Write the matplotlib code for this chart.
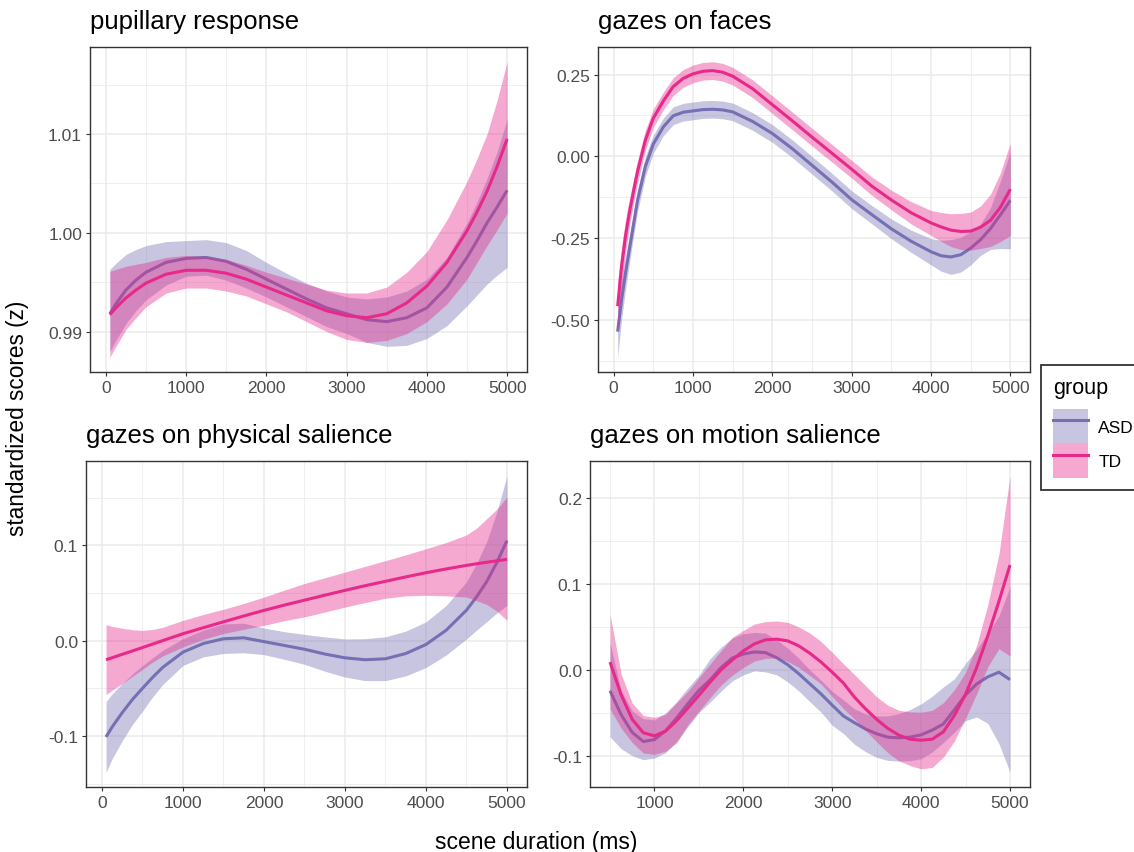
import matplotlib
matplotlib.use("Agg")
import matplotlib.pyplot as plt
from matplotlib.patches import Patch
from matplotlib.lines import Line2D
from matplotlib.legend_handler import HandlerTuple
import numpy as np

plt.rcParams['font.family'] = ['Liberation Sans', 'DejaVu Sans']
plt.rcParams['axes.unicode_minus'] = False

groups = ["ASD", "TD"]
colors = {"ASD": "#7570B3", "TD": "#E7298A"}

# ---------------- pupillary response ----------------
pup_x = [50, 125, 250, 375, 500, 750, 1000, 1250, 1500, 1750, 2000, 2250, 2500, 2750,
         3000, 3250, 3500, 3750, 4000, 4250, 4500, 4625, 4750, 4875, 5000]
pup_asd = [0.9918, 0.9928, 0.9942, 0.9952, 0.9960, 0.9970, 0.9974, 0.9975, 0.9971, 0.9963, 0.9953, 0.9943,
           0.9933, 0.9924, 0.9918, 0.9912, 0.9910, 0.9914, 0.9924, 0.9945, 0.9975, 0.9992, 1.0010,
           1.0026, 1.0043]
pup_asd_lo = [0.9880, 0.9891, 0.9908, 0.9921, 0.9932, 0.9947, 0.9956, 0.9957, 0.9952, 0.9944, 0.9935, 0.9925,
              0.9915, 0.9905, 0.9898, 0.9889, 0.9885, 0.9886, 0.9893, 0.9906, 0.9926, 0.9937, 0.9948,
              0.9957, 0.9965]
pup_asd_hi = [0.9963, 0.9969, 0.9978, 0.9983, 0.9987, 0.9991, 0.9992, 0.9993, 0.9990, 0.9982, 0.9970, 0.9959,
              0.9949, 0.9941, 0.9935, 0.9933, 0.9935, 0.9941, 0.9953, 0.9975, 1.0010, 1.0031, 1.0055,
              1.0082, 1.0115]
pup_td = [0.9917, 0.9924, 0.9934, 0.9942, 0.9949, 0.9958, 0.9962, 0.9962, 0.9959, 0.9953, 0.9945, 0.9937,
          0.9929, 0.9921, 0.9916, 0.9914, 0.9918, 0.9929, 0.9946, 0.9970, 1.0002, 1.0021, 1.0042,
          1.0067, 1.0095]
pup_td_lo = [0.9874, 0.9885, 0.9902, 0.9914, 0.9925, 0.9939, 0.9944, 0.9944, 0.9941, 0.9936, 0.9928, 0.9920,
             0.9910, 0.9900, 0.9892, 0.9889, 0.9891, 0.9898, 0.9910, 0.9928, 0.9953, 0.9970, 0.9987,
             1.0003, 1.0020]
pup_td_hi = [0.9961, 0.9963, 0.9966, 0.9968, 0.9970, 0.9975, 0.9977, 0.9976, 0.9973, 0.9967, 0.9960, 0.9954,
             0.9948, 0.9942, 0.9939, 0.9939, 0.9945, 0.9960, 0.9981, 1.0013, 1.0052, 1.0075, 1.0100,
             1.0134, 1.0173]
pup_yticks = [0.99, 1.00, 1.01]
pup_ylabels = ["0.99", "1.00", "1.01"]

# ---------------- gazes on faces ----------------
fac_x = [50, 100, 150, 200, 250, 300, 400, 500, 625, 750, 875, 1000, 1125, 1250, 1375, 1500,
         1750, 2000, 2250, 2500, 2750, 3000, 3250, 3500, 3750, 4000, 4125, 4250, 4375, 4500,
         4625, 4750, 4875, 5000]
fac_asd = [-0.535, -0.437, -0.355, -0.281, -0.208, -0.135, -0.030, 0.038, 0.090, 0.124, 0.135, 0.139,
           0.143, 0.144, 0.142, 0.136, 0.107, 0.070, 0.024, -0.027, -0.078, -0.132, -0.177, -0.221,
           -0.259, -0.291, -0.303, -0.307, -0.300, -0.280, -0.254, -0.220, -0.178, -0.134]
fac_asd_ci = [0.078, 0.060, 0.050, 0.042, 0.037, 0.034, 0.030, 0.028, 0.027, 0.027, 0.027, 0.027,
              0.027, 0.027, 0.027, 0.027, 0.027, 0.027, 0.027, 0.027, 0.027, 0.027, 0.028, 0.030,
              0.034, 0.040, 0.047, 0.053, 0.053, 0.051, 0.048, 0.064, 0.103, 0.148]
fac_td = [-0.457, -0.335, -0.242, -0.169, -0.107, -0.047, 0.050, 0.117, 0.169, 0.213, 0.238, 0.252,
          0.260, 0.262, 0.257, 0.245, 0.207, 0.158, 0.109, 0.059, 0.010, -0.039, -0.090, -0.133,
          -0.172, -0.203, -0.215, -0.225, -0.229, -0.228, -0.216, -0.195, -0.155, -0.100]
fac_td_ci = [0.075, 0.060, 0.050, 0.042, 0.037, 0.034, 0.030, 0.028, 0.027, 0.027, 0.027, 0.027,
             0.027, 0.027, 0.027, 0.027, 0.027, 0.027, 0.027, 0.027, 0.027, 0.027, 0.028, 0.030,
             0.034, 0.038, 0.044, 0.050, 0.055, 0.058, 0.065, 0.080, 0.105, 0.141]
fac_yticks = [-0.50, -0.25, 0.00, 0.25]
fac_ylabels = ["-0.50", "-0.25", "0.00", "0.25"]

# ---------------- gazes on physical salience ----------------
phy_x = [50, 125, 250, 375, 500, 625, 750, 1000, 1250, 1500, 1750, 2000, 2250, 2500, 2750,
         3000, 3250, 3500, 3750, 4000, 4250, 4500, 4625, 4750, 4875, 5000]
phy_asd = [-0.101, -0.0906, -0.0755, -0.0618, -0.050, -0.0385, -0.028, -0.012, -0.003, 0.002, 0.003,
           -0.001, -0.005, -0.009, -0.014, -0.018, -0.020, -0.019, -0.0135, -0.004, 0.011, 0.032,
           0.046, 0.062, 0.082, 0.105]
phy_asd_lo = [-0.138, -0.124, -0.105, -0.088, -0.074, -0.059, -0.046, -0.026, -0.017, -0.0134, -0.0127,
              -0.0147, -0.0195, -0.0248, -0.032, -0.0382, -0.0419, -0.0419, -0.037, -0.0282, -0.015,
              0.0018, 0.011, 0.020, 0.029, 0.037]
phy_asd_hi = [-0.064, -0.056, -0.045, -0.035, -0.026, -0.018, -0.010, 0.002, 0.011, 0.0176, 0.0183,
              0.0133, 0.0095, 0.0066, 0.004, 0.0018, 0.0021, 0.0041, 0.010, 0.0198, 0.037, 0.0618,
              0.081, 0.104, 0.135, 0.173]
phy_td = [-0.020, -0.0179, -0.0143, -0.0108, -0.0072, -0.0036, 0.0001, 0.0073, 0.0136, 0.0198, 0.0259,
          0.0318, 0.0373, 0.0425, 0.0477, 0.0528, 0.0577, 0.0623, 0.0669, 0.0713, 0.0753, 0.079,
          0.0807, 0.0823, 0.0838, 0.0853]
phy_td_lo = [-0.0566, -0.052, -0.045, -0.0375, -0.030, -0.0225, -0.016, -0.0066, 0.0015, 0.0075, 0.012,
             0.0161, 0.021, 0.025, 0.030, 0.0353, 0.040, 0.0445, 0.047, 0.0476, 0.047, 0.0458,
             0.042, 0.038, 0.031, 0.0213]
phy_td_hi = [0.0168, 0.015, 0.013, 0.0115, 0.0108, 0.0118, 0.014, 0.0213, 0.0275, 0.033, 0.039,
             0.0458, 0.053, 0.060, 0.066, 0.072, 0.078, 0.084, 0.090, 0.0965, 0.103, 0.111,
             0.118, 0.128, 0.138, 0.1507]
phy_yticks = [-0.1, 0.0, 0.1]
phy_ylabels = ["-0.1", "0.0", "0.1"]

# ---------------- gazes on motion salience ----------------
mot_x = [500, 625, 750, 875, 1000, 1125, 1250, 1375, 1500, 1625, 1750, 1875, 2000, 2125, 2250,
         2375, 2500, 2625, 2750, 2875, 3000, 3125, 3250, 3375, 3500, 3625, 3750, 3875, 4000,
         4125, 4250, 4375, 4500, 4625, 4750, 4875, 5000]
mot_asd = [-0.0239, -0.0518, -0.0725, -0.0831, -0.0808, -0.0706, -0.0557, -0.0392, -0.0235, -0.0114,
           0.0031, 0.0141, 0.0188, 0.0212, 0.0204, 0.0145, 0.0063, -0.0043, -0.0161, -0.0278,
           -0.0408, -0.0533, -0.0612, -0.0686, -0.0741, -0.0780, -0.0788, -0.0780, -0.0753,
           -0.0698, -0.0627, -0.0460, -0.0290, -0.0160, -0.0078, -0.0024, -0.0110]
mot_asd_lo = [-0.0776, -0.0914, -0.0996, -0.1043, -0.1024, -0.0961, -0.0827, -0.0659, -0.0494, -0.0373,
              -0.0243, -0.0125, -0.0055, -0.0008, -0.0020, -0.0055, -0.0137, -0.0243, -0.0369, -0.0490,
              -0.0643, -0.0737, -0.0863, -0.0949, -0.1016, -0.1051, -0.1059, -0.1055, -0.1031,
              -0.0953, -0.0843, -0.0722, -0.0588, -0.0545, -0.0620, -0.0855, -0.1188]
mot_asd_hi = [0.0322, -0.0239, -0.0475, -0.0565, -0.0580, -0.0498, -0.0365, -0.0208, -0.0059, 0.0133,
              0.0267, 0.0373, 0.0424, 0.0439, 0.0431, 0.0353, 0.0255, 0.0137, 0.0000, -0.0118,
              -0.0247, -0.0345, -0.0451, -0.0510, -0.0533, -0.0533, -0.0506, -0.0459, -0.0392,
              -0.0302, -0.0196, -0.0100, 0.0080, 0.0240, 0.0435, 0.0631, 0.0969]
mot_td = [0.0094, -0.0286, -0.0573, -0.0729, -0.0765, -0.0710, -0.0588, -0.0443, -0.0294, -0.0141,
          0.0004, 0.0118, 0.0224, 0.0306, 0.0353, 0.0361, 0.0341, 0.0282, 0.0196, 0.0094,
          -0.0024, -0.0149, -0.0314, -0.0451, -0.0573, -0.0678, -0.0757, -0.0804, -0.0816,
          -0.0804, -0.0718, -0.0526, -0.0280, 0.0030, 0.0400, 0.0800, 0.1224]
mot_td_lo = [-0.0451, -0.0675, -0.0843, -0.0965, -0.0980, -0.0945, -0.0847, -0.0639, -0.0478, -0.0322,
             -0.0173, -0.0059, 0.0031, 0.0106, 0.0137, 0.0141, 0.0102, 0.0031, -0.0063, -0.0161,
             -0.0306, -0.0447, -0.0569, -0.0702, -0.0835, -0.0961, -0.1055, -0.1110, -0.1149,
             -0.1133, -0.1012, -0.0824, -0.0560, -0.0275, 0.0040, 0.0250, 0.0165]
mot_td_hi = [0.0655, -0.0043, -0.0384, -0.0529, -0.0549, -0.0514, -0.0380, -0.0247, -0.0090, 0.0071,
             0.0227, 0.0380, 0.0463, 0.0537, 0.0565, 0.0573, 0.0557, 0.0502, 0.0431, 0.0333,
             0.0208, 0.0075, -0.0051, -0.0180, -0.0310, -0.0408, -0.0467, -0.0486, -0.0490,
             -0.0467, -0.0380, -0.0227, -0.0027, 0.0290, 0.0760, 0.1350, 0.2263]
mot_yticks = [-0.1, 0.0, 0.1, 0.2]
mot_ylabels = ["-0.1", "0.0", "0.1", "0.2"]

titles = ["pupillary response", "gazes on faces",
          "gazes on physical salience", "gazes on motion salience"]
xlabel = "scene duration (ms)"
ylabel = "standardized scores (z)"


def ribbon(mean, ci):
    m = np.array(mean)
    c = np.array(ci)
    return m, m - c, m + c


panels = [
    (pup_x, {"ASD": (pup_asd, pup_asd_lo, pup_asd_hi), "TD": (pup_td, pup_td_lo, pup_td_hi)},
     pup_yticks, pup_ylabels, [0, 1000, 2000, 3000, 4000, 5000]),
    (fac_x, {"ASD": ribbon(fac_asd, fac_asd_ci), "TD": ribbon(fac_td, fac_td_ci)},
     fac_yticks, fac_ylabels, [0, 1000, 2000, 3000, 4000, 5000]),
    (phy_x, {"ASD": (phy_asd, phy_asd_lo, phy_asd_hi), "TD": (phy_td, phy_td_lo, phy_td_hi)},
     phy_yticks, phy_ylabels, [0, 1000, 2000, 3000, 4000, 5000]),
    (mot_x, {"ASD": (mot_asd, mot_asd_lo, mot_asd_hi), "TD": (mot_td, mot_td_lo, mot_td_hi)},
     mot_yticks, mot_ylabels, [1000, 2000, 3000, 4000, 5000]),
]

W, H = 1134, 853
fig = plt.figure(figsize=(W / 100, H / 100), dpi=100)

# panel boxes in pixels: left, top, right, bottom
boxes = [(90, 48, 527, 373), (598, 48, 1030, 373),
         (86, 462, 527, 788), (590, 462, 1030, 788)]

grid_col = "#EBEBEB"
for i, (xs, data, yt, yl, xt) in enumerate(panels):
    l, t, r, b = boxes[i]
    ax = fig.add_axes([l / W, 1 - b / H, (r - l) / W, (b - t) / H])
    xs = np.array(xs, dtype=float)
    z = 2
    for g in groups:
        m, lo, hi = data[g]
        ax.fill_between(xs, lo, hi, color=colors[g], alpha=0.4, lw=0, zorder=z)
        ax.plot(xs, m, color=colors[g], lw=2.2, zorder=z + 1,
                solid_capstyle='butt', solid_joinstyle='round')
        z += 2
    # ggplot-like limits (5% expansion)
    allv = np.concatenate([np.asarray(data[g][k], dtype=float) for g in groups for k in range(3)])
    ymin, ymax = allv.min(), allv.max()
    yr = ymax - ymin
    xr = xs.max() - xs.min()
    ax.set_yticks(yt)
    ax.set_yticklabels(yl)
    ax.set_xticks(xt)
    ax.set_xticklabels([str(v) for v in xt])
    ax.set_xticks([v + 500 for v in range(-1000, 5000, 1000)], minor=True)
    step = yt[1] - yt[0]
    ax.set_yticks([yt[0] - step / 2] + [v + step / 2 for v in yt], minor=True)
    ax.set_xlim(xs.min() - 0.05 * xr, xs.max() + 0.05 * xr)
    ax.set_ylim(ymin - 0.05 * yr, ymax + 0.05 * yr)
    ax.grid(True, which='major', color=grid_col, lw=1.1, zorder=0)
    ax.grid(True, which='minor', color=grid_col, lw=0.55, zorder=0)
    ax.set_axisbelow(True)
    ax.tick_params(which='minor', length=0)
    ax.tick_params(which='major', length=3.2, width=0.8, color='#333333',
                   labelcolor='#4D4D4D', labelsize=12.5, pad=2.5)
    for s in ax.spines.values():
        s.set_color('#333333')
        s.set_linewidth(1.0)
    ax.set_facecolor('white')
    ax.text(0, 1.0 + 14 / (b - t), titles[i], transform=ax.transAxes,
            fontsize=18.5, color='black', ha='left', va='bottom')

fig.text(18 / W, 1 - 418 / H, ylabel, rotation=90, fontsize=16.3,
         ha='center', va='center', color='black')
fig.text(536 / W, 1 - 843 / H, xlabel, fontsize=16.5,
         ha='center', va='center', color='black')

handles = [(Patch(facecolor=colors[g], alpha=0.4, lw=0),
            Line2D([], [], color=colors[g], lw=2.2)) for g in groups]
leg = fig.legend(handles, groups, title='group', loc='upper left',
                 bbox_to_anchor=(1041 / W, 1 - 366 / H),
                 handler_map={tuple: HandlerTuple(ndivide=1)},
                 frameon=True, fancybox=False, edgecolor='black',
                 fontsize=12.5, title_fontsize=15.5, alignment='left',
                 handlelength=2.0, handleheight=2.65, labelspacing=0.0,
                 handletextpad=0.6, borderpad=0.7, borderaxespad=0)
leg._legend_box.sep = 8
leg.get_frame().set_linewidth(1.3)

fig.savefig("out.png", dpi=100, facecolor='white')
